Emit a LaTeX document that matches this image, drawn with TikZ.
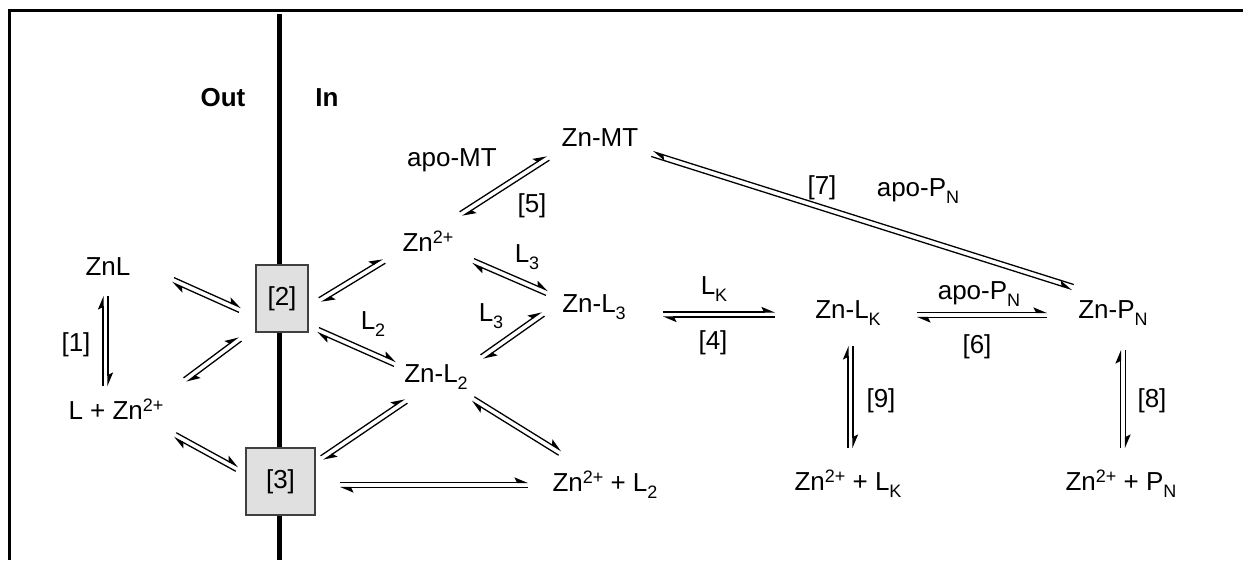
\documentclass[tikz,border=0pt]{standalone}
\usepackage{fontspec}
\setmainfont{Liberation Sans}
\usetikzlibrary{arrows.meta,calc}

\newcommand{\sps}[1]{\raisebox{7.5pt}{\fontsize{18}{18}\selectfont #1}}
\newcommand{\sbs}[1]{\raisebox{-7.5pt}{\fontsize{18}{18}\selectfont #1}}

\tikzset{
  lbl/.style={anchor=base, inner sep=0pt, font=\fontsize{26}{30}\selectfont},
  hdr/.style={lbl, font=\fontsize{26}{30}\selectfont\bfseries},
  boxed/.style={draw=black!75, fill=black!12, line width=1.6pt, inner sep=0pt,
                font=\fontsize{26}{30}\selectfont},
  harp/.style={line width=1.3pt, -{Stealth[left,length=12pt,width=10pt,inset=2.5pt]}},
  frame/.style={line width=3pt},
  membrane/.style={line width=5pt},
}

% equilibrium pair, standard: each line offset to its own left
\newcommand{\eqpair}[2]{%
  \draw[harp] ($(#1)!2.6pt!90:(#2)$) -- ($(#2)!2.6pt!-90:(#1)$);
  \draw[harp] ($(#2)!2.6pt!90:(#1)$) -- ($(#1)!2.6pt!-90:(#2)$);}
% equilibrium pair, reversed: each line offset to its own right
\newcommand{\eqpairrev}[2]{%
  \draw[harp] ($(#1)!2.6pt!-90:(#2)$) -- ($(#2)!2.6pt!90:(#1)$);
  \draw[harp] ($(#2)!2.6pt!-90:(#1)$) -- ($(#1)!2.6pt!90:(#2)$);}

\begin{document}
\begin{tikzpicture}[x=1pt,y=-1pt]
\useasboundingbox (0,0) rectangle (1243,560);

% frame (top and left edges)
\draw[frame] (9,560) -- (9,10) -- (1243,10);

% membrane
\draw[membrane] (279,14) -- (279,560);

% transporter boxes
\node[boxed, minimum width=52pt, minimum height=67pt] (b2) at (282,298.5) {[2]};
\node[boxed, minimum width=69pt, minimum height=67pt] (b3) at (280.5,481.5) {[3]};

% headers
\node[hdr] (out) at (223,106) {Out};
\node[hdr] (in) at (327,106) {In};

% species and labels
\node[lbl] (znl) at (108,275) {ZnL};
\node[lbl] (r1) at (76,351) {[1]};
\node[lbl] (lzn) at (116,419) {L + Zn\sps{2+}};
\node[lbl] (znmt) at (600,146) {Zn-MT};
\node[lbl] (apomt) at (452,166) {apo-MT};
\node[lbl] (r5) at (532,212) {[5]};
\node[lbl] (zn) at (428,251) {Zn\sps{2+}};
\node[lbl] (l3a) at (527,262) {L\sbs{3}};
\node[lbl] (znl3) at (594,312) {Zn-L\sbs{3}};
\node[lbl] (l3b) at (491,321) {L\sbs{3}};
\node[lbl] (l2) at (373,329) {L\sbs{2}};
\node[lbl] (lk) at (714,294) {L\sbs{K}};
\node[lbl] (r4) at (713,349) {[4]};
\node[lbl] (znl2) at (436,382) {Zn-L\sbs{2}};
\node[lbl] (znl2free) at (605,491) {Zn\sps{2+} + L\sbs{2}};
\node[lbl] (r7) at (822,194) {[7]};
\node[lbl] (apopn1) at (918,196) {apo-P\sbs{N}};
\node[lbl] (apopn2) at (979,299) {apo-P\sbs{N}};
\node[lbl] (znlk) at (848,318) {Zn-L\sbs{K}};
\node[lbl] (znpn) at (1113,318) {Zn-P\sbs{N}};
\node[lbl] (r6) at (977,353) {[6]};
\node[lbl] (r9) at (881,407) {[9]};
\node[lbl] (r8) at (1152,407) {[8]};
\node[lbl] (znlkfree) at (848,490) {Zn\sps{2+} + L\sbs{K}};
\node[lbl] (znpnfree) at (1121,490) {Zn\sps{2+} + P\sbs{N}};

% arrow end points
\coordinate (a1s) at (105.5,296);  \coordinate (a1e) at (105.5,386);
\coordinate (a2s) at (173,280);    \coordinate (a2e) at (240,310);
\coordinate (a3s) at (185,380);    \coordinate (a3e) at (240,339);
\coordinate (a4s) at (175,435);    \coordinate (a4e) at (237,469);
\coordinate (a5s) at (320,300);    \coordinate (a5e) at (384,261);
\coordinate (a6s) at (318,330);    \coordinate (a6e) at (395,364);
\coordinate (a7s) at (322,458);    \coordinate (a7e) at (406,401);
\coordinate (a8s) at (340,485);    \coordinate (a8e) at (528,485);
\coordinate (a9s) at (461,214);    \coordinate (a9e) at (548,158);
\coordinate (a10s) at (473,261);   \coordinate (a10e) at (547,293);
\coordinate (a11s) at (482,357);   \coordinate (a11e) at (543,314);
\coordinate (a12s) at (473,399);   \coordinate (a12e) at (560,453);
\coordinate (a13s) at (663,314.5); \coordinate (a13e) at (775,314.5);
\coordinate (a14s) at (917,315);   \coordinate (a14e) at (1047,315);
\coordinate (a15s) at (652,154);   \coordinate (a15e) at (1073,287);
\coordinate (a16s) at (850.5,346); \coordinate (a16e) at (850.5,448);
\coordinate (a17s) at (1123,350);  \coordinate (a17e) at (1123,448);

\eqpair{a1s}{a1e}
\eqpair{a2s}{a2e}
\eqpair{a3s}{a3e}
\eqpair{a4s}{a4e}
\eqpair{a5s}{a5e}
\eqpair{a6s}{a6e}
\eqpair{a7s}{a7e}
\eqpair{a8s}{a8e}
\eqpair{a9s}{a9e}
\eqpair{a10s}{a10e}
\eqpair{a11s}{a11e}
\eqpair{a12s}{a12e}
\eqpair{a13s}{a13e}
\eqpair{a14s}{a14e}
\eqpairrev{a15s}{a15e}
\eqpair{a16s}{a16e}
\eqpair{a17s}{a17e}
\end{tikzpicture}
\end{document}
